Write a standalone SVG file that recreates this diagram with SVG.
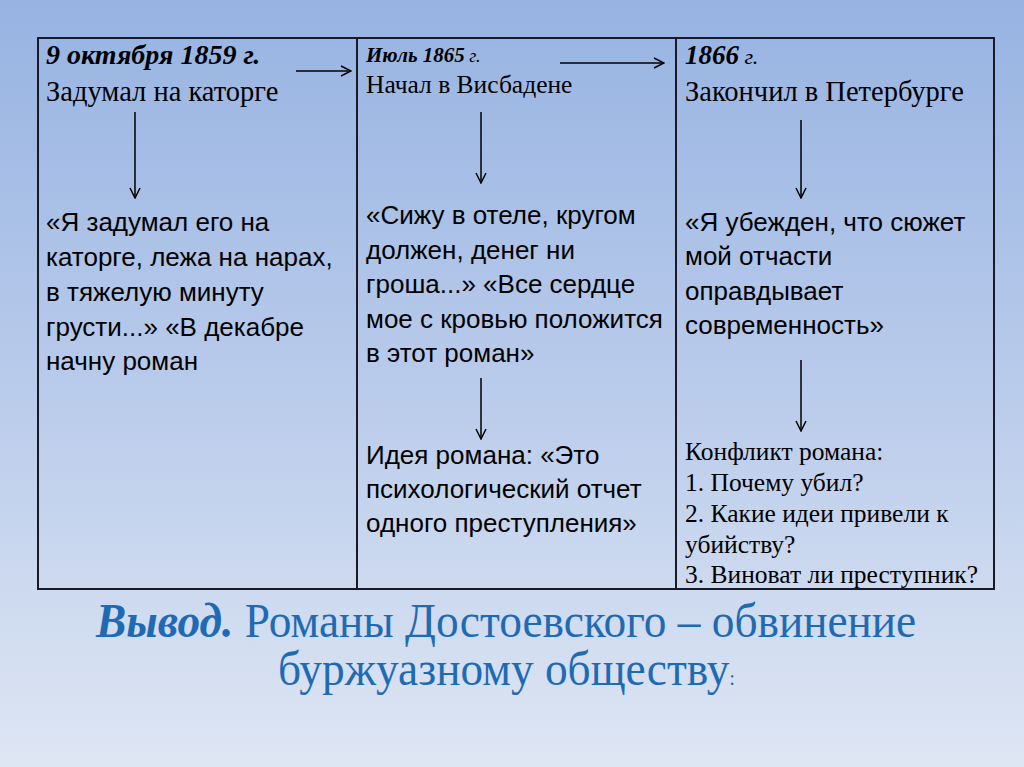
<svg xmlns="http://www.w3.org/2000/svg" width="1024" height="767" viewBox="0 0 1024 767">
<defs>
<linearGradient id="bg" x1="0" y1="0" x2="0" y2="1">
<stop offset="0" stop-color="#97b3e2"/>
<stop offset="0.5" stop-color="#b9cbeb"/>
<stop offset="1" stop-color="#dee6f3"/>
</linearGradient>
<marker id="ah" viewBox="0 0 12 12" refX="11" refY="6" markerWidth="12" markerHeight="12" markerUnits="userSpaceOnUse" orient="auto">
<path d="M1,1 L11,6 L1,11" fill="none" stroke="#000" stroke-width="1.5"/>
</marker>
<style>
.tm{font-family:"Liberation Serif","Times New Roman",serif;fill:#000}
.ar{font-family:"Liberation Sans",Arial,sans-serif;fill:#000}
.bi{font-weight:bold;font-style:italic}
.it{font-style:italic}
.cn{stroke:#000;stroke-width:1.5;fill:none;marker-end:url(#ah)}
.grid{stroke:#1a1a26;stroke-width:2;fill:none}
.ttl{font-family:"Liberation Serif","Times New Roman",serif;fill:#1f6bb3}
</style>
</defs>
<rect x="0" y="0" width="1024" height="767" fill="url(#bg)"/>
<g id="table">
<rect class="grid" x="38" y="38" width="956" height="551"/>
<line class="grid" x1="357" y1="38" x2="357" y2="589"/>
<line class="grid" x1="676" y1="38" x2="676" y2="589"/>
</g>
<g id="node-1859">
<text class="tm bi" x="46" y="64" font-size="28">9 октября 1859 г.</text>
<text class="tm" x="46" y="101" font-size="28.5">Задумал на каторге</text>
<text class="ar" font-size="26">
<tspan x="46" y="231">«Я задумал его на</tspan>
<tspan x="46" y="266">каторге, лежа на нарах,</tspan>
<tspan x="46" y="301">в тяжелую минуту</tspan>
<tspan x="46" y="336">грусти...» «В декабре</tspan>
<tspan x="46" y="370">начну роман</tspan>
</text>
</g>
<g id="node-1865">
<text class="tm" x="366" y="62"><tspan class="bi" font-size="21">Июль 1865</tspan><tspan class="it" font-size="18"> г.</tspan></text>
<text class="tm" x="366" y="93" font-size="25.5">Начал в Висбадене</text>
<text class="ar" font-size="26">
<tspan x="366" y="224">«Сижу в отеле, кругом</tspan>
<tspan x="366" y="259">должен, денег ни</tspan>
<tspan x="366" y="293">гроша...» «Все сердце</tspan>
<tspan x="366" y="328">мое с кровью положится</tspan>
<tspan x="366" y="362">в этот роман»</tspan>
</text>
<text class="ar" font-size="26">
<tspan x="366" y="464">Идея романа: «Это</tspan>
<tspan x="366" y="498">психологический отчет</tspan>
<tspan x="366" y="532">одного преступления»</tspan>
</text>
</g>
<g id="node-1866">
<text class="tm" x="685" y="64"><tspan class="bi" font-size="27">1866</tspan><tspan class="it" font-size="22"> г.</tspan></text>
<text class="tm" x="685" y="101" font-size="28.5">Закончил в Петербурге</text>
<text class="ar" font-size="26">
<tspan x="685" y="231">«Я убежден, что сюжет</tspan>
<tspan x="685" y="265">мой отчасти</tspan>
<tspan x="685" y="300">оправдывает</tspan>
<tspan x="685" y="334">современность»</tspan>
</text>
<text class="tm" font-size="25.5">
<tspan x="685" y="460">Конфликт романа:</tspan>
<tspan x="685" y="491">1. Почему убил?</tspan>
<tspan x="685" y="522">2. Какие идеи привели к</tspan>
<tspan x="685" y="553">убийству?</tspan>
<tspan x="685" y="583">3. Виноват ли преступник?</tspan>
</text>
</g>
<g id="connectors">
<line class="cn" x1="296" y1="71" x2="351" y2="71"/>
<line class="cn" x1="560" y1="63" x2="664" y2="63"/>
<line class="cn" x1="135" y1="112" x2="135" y2="198"/>
<line class="cn" x1="481" y1="112" x2="481" y2="183"/>
<line class="cn" x1="481" y1="378" x2="481" y2="439"/>
<line class="cn" x1="801" y1="120" x2="801" y2="198"/>
<line class="cn" x1="801" y1="360" x2="801" y2="431"/>
</g>
<g id="conclusion">
<text class="ttl" transform="translate(96,637) scale(0.945,1)" font-size="48"><tspan class="bi">Вывод.</tspan> Романы Достоевского – обвинение</text>
<text class="ttl" transform="translate(278,685) scale(0.945,1)" font-size="48">буржуазному обществу<tspan font-size="22">:</tspan></text>
</g>
</svg>
